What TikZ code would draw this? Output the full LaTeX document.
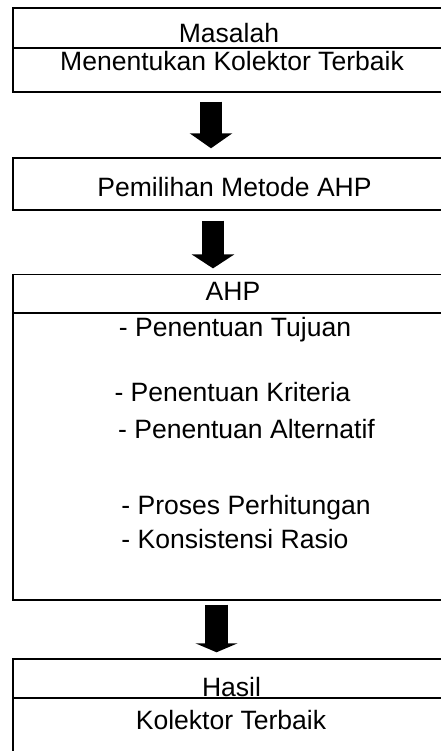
\documentclass[tikz,border=0pt]{standalone}
\usepackage{fontspec}
\setmainfont{Liberation Sans}
\usetikzlibrary{arrows.meta}
\begin{document}
\begin{tikzpicture}[x=0.75pt,y=-0.75pt,
  box/.style={draw,line width=1.1pt,inner sep=0pt,minimum width=328.5pt},
  sep/.style={line width=1.1pt},
  lbl/.style={anchor=base,inner sep=0pt,font=\fontsize{19.9}{23}\selectfont},
  bigarrow/.style={line width=16.5pt,-{Triangle[width=31.5pt,length=#1]}}]

\clip (0,0) rectangle (441,751);

\node[box,minimum height=63pt] (masalah) at (232,50) {};
\draw[sep] (masalah.west |- 0,48) -- (masalah.east |- 0,48);
\node[lbl] (tmasalah) at (229,42) {Masalah};
\node[lbl] (tkolektor) at (232,70) {Menentukan Kolektor Terbaik};

\node[box,minimum height=39pt] (metode) at (232,184) {};
\node[lbl] (tmetode) at (234.5,196) {Pemilihan Metode AHP};

\node[box,minimum height=244pt] (ahp) at (232,437.25) {};
\draw[sep] (ahp.west |- 0,313) -- (ahp.east |- 0,313);
\node[lbl] (tahp) at (233,300) {AHP};
\node[lbl] (ttujuan) at (235,336) {- Penentuan Tujuan};
\node[lbl] (tkriteria) at (232.5,401) {- Penentuan Kriteria};
\node[lbl] (talternatif) at (246.5,438) {- Penentuan Alternatif};
\node[lbl] (tproses) at (246,514) {- Proses Perhitungan};
\node[lbl] (tkonsistensi) at (235,548) {- Konsistensi Rasio};

\node[box,minimum height=91.5pt] (hasil) at (232,720) {};
\draw[sep] (hasil.west |- 0,698) -- (hasil.east |- 0,698);
\node[lbl] (thasil) at (231.5,696) {Hasil};
\node[lbl] (tterbaik) at (231,729) {Kolektor Terbaik};

\draw[bigarrow=11.25pt,shorten <=6.75pt,shorten >=6.75pt] ([xshift=-15.75pt]masalah.south) -- ([xshift=-15.75pt]metode.north);
\draw[bigarrow=10.5pt,shorten <=7.5pt,shorten >=4.1pt] ([xshift=-14.25pt]metode.south) -- ([xshift=-14.25pt]ahp.north);
\draw[bigarrow=6.75pt,line width=17.25pt,shorten <=3pt,shorten >=4.5pt] ([xshift=-11.6pt]ahp.south) -- ([xshift=-11.6pt]hasil.north);

\end{tikzpicture}
\end{document}
